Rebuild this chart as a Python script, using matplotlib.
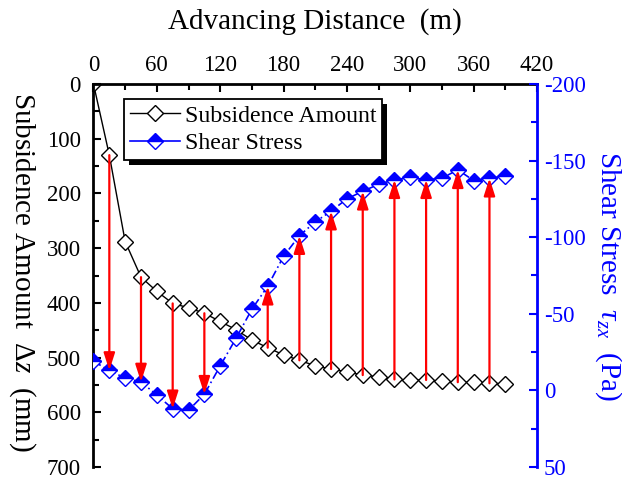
import matplotlib
matplotlib.use('Agg')
import matplotlib.pyplot as plt
from matplotlib.lines import Line2D
from matplotlib.patches import Rectangle
from matplotlib.ticker import MultipleLocator
from matplotlib.transforms import IdentityTransform

plt.rcParams['font.family'] = ['Liberation Serif', 'DejaVu Serif']
plt.rcParams['mathtext.fontset'] = 'custom'
plt.rcParams['mathtext.rm'] = 'Liberation Serif'
plt.rcParams['mathtext.it'] = 'Liberation Serif:italic'
plt.rcParams['axes.unicode_minus'] = False

distance = [0, 15, 30, 45, 60, 75, 90, 105, 120, 135, 150, 165, 180, 195,
            210, 225, 240, 255, 270, 285, 300, 315, 330, 345, 360, 375, 390]
subsidence = [0, 130, 288, 353, 379, 401, 409, 419, 434, 449, 468, 482, 495, 505,
              515, 521, 526, 532, 535, 540, 541, 541, 543, 545, 545, 547, 548]
shear = [-19, -13, -8, -5.5, 3, 12, 13, 2.5, -16, -34, -53, -68, -87.5, -101,
         -110, -117, -125, -130, -134.5, -137.5, -139, -137.5, -138.5, -144, -137, -138.5, -140]
arrow_x = [15, 45, 75, 105, 165, 195, 225, 255, 285, 315, 345, 375]

x_ticks = [0, 60, 120, 180, 240, 300, 360, 420]
left_ticks = [0, 100, 200, 300, 400, 500, 600, 700]
right_ticks = [-200, -150, -100, -50, 0, 50]

fig = plt.figure(figsize=(6.22, 4.8), dpi=100)
# axes spans x 93.5..537 px, y 84..467 px
ax = fig.add_axes([0.1503, 1 - 467 / 480, 0.7130, 383 / 480])

ax.plot(distance, subsidence, color='black', lw=1.0, marker='D', ms=8,
        mfc='white', mec='black', mew=1.0, zorder=2)
ax.set_xlim(0, 420)
ax.set_ylim(700, 0)
ax.xaxis.tick_top()
ax.xaxis.set_label_position('top')
ax.set_xticks(x_ticks)
ax.xaxis.set_minor_locator(MultipleLocator(30))
ax.set_yticks(left_ticks)
ax.yaxis.set_minor_locator(MultipleLocator(50))
ax.tick_params(axis='x', which='both', direction='in', top=True, bottom=False,
               labelsize=16.5, pad=6, width=1.5)
ax.tick_params(axis='x', which='major', length=6)
ax.tick_params(axis='x', which='minor', length=4)
ax.tick_params(axis='y', which='both', direction='in', left=True, right=False,
               labelsize=16.5, pad=9, width=1.5)
ax.tick_params(axis='y', which='major', length=6)
ax.tick_params(axis='y', which='minor', length=4)
for s in ['bottom', 'right']:
    ax.spines[s].set_visible(False)
for s in ['left', 'top']:
    ax.spines[s].set_linewidth(2.0)

ax.set_xlabel('Advancing Distance  (m)', fontsize=21, labelpad=19)
ax.set_ylabel(r'Subsidence Amount  Δ$z$  (mm)', fontsize=21, rotation=270,
              va='center', ha='center')
ax.yaxis.set_label_coords(-0.161, 0.51)

ax2 = ax.twinx()
ax2.plot(distance, shear, color='blue', lw=1.2, ls=(0, (5, 2, 1, 2)), marker='D', ms=8,
         fillstyle='top', mfc='blue', mfcalt='white', mec='blue', mew=1.0, zorder=2)
ax2.set_ylim(50, -200)
ax2.set_yticks(right_ticks)
ax2.yaxis.set_minor_locator(MultipleLocator(25))
ax2.tick_params(axis='y', which='both', direction='in', colors='blue',
                labelsize=16.5, pad=5, width=1.5)
ax2.tick_params(axis='y', which='major', length=6)
ax2.tick_params(axis='y', which='minor', length=4)
for s in ['bottom', 'left', 'top']:
    ax2.spines[s].set_visible(False)
ax2.spines['right'].set_color('blue')
ax2.spines['right'].set_linewidth(2.0)
ax2.set_ylabel(r'Shear Stress  $\tau_{zx}$  (Pa)', fontsize=21, color='blue',
               rotation=270, va='center', ha='center')
ax2.yaxis.set_label_coords(1.16, 0.5)

for xv in arrow_x:
    i = distance.index(xv)
    ax2.annotate('', xy=(xv, shear[i]), xycoords='data',
                 xytext=(xv, subsidence[i]), textcoords=ax.transData,
                 arrowprops=dict(arrowstyle='-|>,head_length=0.75,head_width=0.24',
                                 color='red', lw=1.6, shrinkA=0, shrinkB=0,
                                 mutation_scale=14),
                 zorder=4)

handles = [
    Line2D([], [], color='black', lw=1.0, marker='D', ms=8, mfc='white', mec='black'),
    Line2D([], [], color='blue', lw=1.2, marker='D', ms=8, fillstyle='top',
           mfc='blue', mfcalt='white', mec='blue'),
]
leg = ax2.legend(handles, ['Subsidence Amount', 'Shear Stress'], loc='upper left',
                 bbox_to_anchor=(0.069, 0.961), fontsize=17.2, frameon=True, fancybox=False,
                 edgecolor='black', framealpha=1, handlelength=2.1, handletextpad=0.2,
                 labelspacing=0.25, borderpad=0.25, borderaxespad=0)
leg.get_frame().set_linewidth(1.3)
leg.set_zorder(6)

fig.canvas.draw()
bb = leg.get_window_extent()
shadow = Rectangle((bb.x0 + 5, bb.y0 - 5), bb.width, bb.height, transform=IdentityTransform(),
                   facecolor='black', edgecolor='none', zorder=5.5, clip_on=False)
ax2.add_artist(shadow)

fig.savefig('out.png', dpi=100)
